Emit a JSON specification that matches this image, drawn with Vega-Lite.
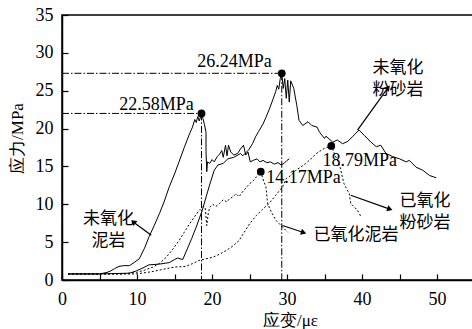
{
  "$schema": "https://vega.github.io/schema/vega-lite/v6.json",
  "width": 412,
  "height": 265,
  "autosize": "none",
  "padding": {"left": 62, "top": 15, "right": 0, "bottom": 49},
  "background": "white",
  "config": {
    "view": {"stroke": "black", "strokeWidth": 1.5},
    "axis": {
      "grid": false,
      "domainColor": "black",
      "domainWidth": 1.5,
      "tickColor": "black",
      "tickWidth": 1.2,
      "tickSize": -6,
      "labelFont": "Liberation Serif",
      "labelFontSize": 18,
      "labelColor": "black",
      "labelFlush": false,
      "labelOverlap": false,
      "titleFont": "Liberation Serif",
      "titleFontSize": 17,
      "titleFontWeight": "normal",
      "titleColor": "black"
    }
  },
  "datasets": {
    "curves": [
      {"series": "未氧化泥岩", "strain": 0.8, "stress": 0.8},
      {"series": "未氧化泥岩", "strain": 5, "stress": 0.8},
      {"series": "未氧化泥岩", "strain": 6, "stress": 1.0},
      {"series": "未氧化泥岩", "strain": 6.5, "stress": 1.2},
      {"series": "未氧化泥岩", "strain": 7, "stress": 1.5},
      {"series": "未氧化泥岩", "strain": 7.6, "stress": 1.8},
      {"series": "未氧化泥岩", "strain": 8.3, "stress": 1.9},
      {"series": "未氧化泥岩", "strain": 9, "stress": 1.9},
      {"series": "未氧化泥岩", "strain": 9.6, "stress": 2.3},
      {"series": "未氧化泥岩", "strain": 10.3, "stress": 2.8},
      {"series": "未氧化泥岩", "strain": 11, "stress": 4.2},
      {"series": "未氧化泥岩", "strain": 11.6, "stress": 5.7},
      {"series": "未氧化泥岩", "strain": 12.3, "stress": 7.2},
      {"series": "未氧化泥岩", "strain": 13, "stress": 8.8},
      {"series": "未氧化泥岩", "strain": 13.6, "stress": 10.3},
      {"series": "未氧化泥岩", "strain": 14.3, "stress": 12.3},
      {"series": "未氧化泥岩", "strain": 15, "stress": 14},
      {"series": "未氧化泥岩", "strain": 15.6, "stress": 15.6},
      {"series": "未氧化泥岩", "strain": 16.3, "stress": 17.5},
      {"series": "未氧化泥岩", "strain": 17, "stress": 19.3},
      {"series": "未氧化泥岩", "strain": 17.4, "stress": 20.2},
      {"series": "未氧化泥岩", "strain": 17.7, "stress": 21.2},
      {"series": "未氧化泥岩", "strain": 17.9, "stress": 20.8},
      {"series": "未氧化泥岩", "strain": 18.1, "stress": 21.6},
      {"series": "未氧化泥岩", "strain": 18.3, "stress": 21.0},
      {"series": "未氧化泥岩", "strain": 18.6, "stress": 22.0},
      {"series": "未氧化泥岩", "strain": 18.8, "stress": 21.3},
      {"series": "未氧化泥岩", "strain": 19.0, "stress": 20.5},
      {"series": "未氧化泥岩", "strain": 19.2, "stress": 19.5},
      {"series": "未氧化泥岩", "strain": 19.2, "stress": 17.0},
      {"series": "未氧化泥岩", "strain": 19.3, "stress": 14.3},
      {"series": "未氧化泥岩", "strain": 19.4, "stress": 15.6},
      {"series": "未氧化泥岩", "strain": 19.7, "stress": 15.4},
      {"series": "未氧化泥岩", "strain": 20.0, "stress": 15.9},
      {"series": "未氧化泥岩", "strain": 20.3, "stress": 15.6},
      {"series": "未氧化泥岩", "strain": 20.7, "stress": 16.3},
      {"series": "未氧化泥岩", "strain": 21.0, "stress": 16.6},
      {"series": "未氧化泥岩", "strain": 21.3, "stress": 17.1},
      {"series": "未氧化泥岩", "strain": 21.5, "stress": 16.2},
      {"series": "未氧化泥岩", "strain": 21.8, "stress": 17.8},
      {"series": "未氧化泥岩", "strain": 22.0, "stress": 16.4},
      {"series": "未氧化泥岩", "strain": 22.2, "stress": 17.8},
      {"series": "未氧化泥岩", "strain": 22.5, "stress": 16.9},
      {"series": "未氧化泥岩", "strain": 22.9, "stress": 16.5},
      {"series": "未氧化泥岩", "strain": 23.4, "stress": 16.7},
      {"series": "未氧化泥岩", "strain": 23.8, "stress": 17.3},
      {"series": "未氧化泥岩", "strain": 24.2, "stress": 17.8},
      {"series": "未氧化泥岩", "strain": 24.5, "stress": 16.5},
      {"series": "未氧化泥岩", "strain": 24.8, "stress": 16.9},
      {"series": "未氧化泥岩", "strain": 25.1, "stress": 15.6},
      {"series": "未氧化泥岩", "strain": 25.5, "stress": 15.8},
      {"series": "未氧化泥岩", "strain": 26.0, "stress": 16.0},
      {"series": "未氧化泥岩", "strain": 26.4, "stress": 15.6},
      {"series": "未氧化泥岩", "strain": 26.8, "stress": 15.8},
      {"series": "未氧化泥岩", "strain": 27.3, "stress": 15.5},
      {"series": "未氧化泥岩", "strain": 27.8, "stress": 15.6},
      {"series": "未氧化泥岩", "strain": 28.3, "stress": 15.3},
      {"series": "未氧化泥岩", "strain": 28.8, "stress": 15.5},
      {"series": "未氧化泥岩", "strain": 29.2, "stress": 15.2},
      {"series": "未氧化泥岩", "strain": 29.6, "stress": 15.4},
      {"series": "未氧化泥岩", "strain": 30.0, "stress": 15.8},
      {"series": "未氧化泥岩", "strain": 30.3, "stress": 16.0},

      {"series": "未氧化粉砂岩", "strain": 0.8, "stress": 0.8},
      {"series": "未氧化粉砂岩", "strain": 5, "stress": 0.8},
      {"series": "未氧化粉砂岩", "strain": 9, "stress": 0.9},
      {"series": "未氧化粉砂岩", "strain": 9.9, "stress": 1.2},
      {"series": "未氧化粉砂岩", "strain": 10.8, "stress": 1.6},
      {"series": "未氧化粉砂岩", "strain": 11.6, "stress": 2.0},
      {"series": "未氧化粉砂岩", "strain": 13, "stress": 2.1},
      {"series": "未氧化粉砂岩", "strain": 14.3, "stress": 2.3},
      {"series": "未氧化粉砂岩", "strain": 15, "stress": 2.7},
      {"series": "未氧化粉砂岩", "strain": 15.4, "stress": 2.9},
      {"series": "未氧化粉砂岩", "strain": 16.1, "stress": 2.7},
      {"series": "未氧化粉砂岩", "strain": 16.7, "stress": 4.1},
      {"series": "未氧化粉砂岩", "strain": 17.3, "stress": 5.5},
      {"series": "未氧化粉砂岩", "strain": 17.9, "stress": 7.0},
      {"series": "未氧化粉砂岩", "strain": 18.7, "stress": 9.2},
      {"series": "未氧化粉砂岩", "strain": 19.6, "stress": 12.3},
      {"series": "未氧化粉砂岩", "strain": 20.3, "stress": 14.5},
      {"series": "未氧化粉砂岩", "strain": 20.8, "stress": 15.2},
      {"series": "未氧化粉砂岩", "strain": 21.5, "stress": 15.4},
      {"series": "未氧化粉砂岩", "strain": 22.1, "stress": 16.0},
      {"series": "未氧化粉砂岩", "strain": 22.9, "stress": 16.2},
      {"series": "未氧化粉砂岩", "strain": 23.8, "stress": 16.7},
      {"series": "未氧化粉砂岩", "strain": 24.1, "stress": 16.4},
      {"series": "未氧化粉砂岩", "strain": 24.9, "stress": 17.2},
      {"series": "未氧化粉砂岩", "strain": 25.4, "stress": 18.0},
      {"series": "未氧化粉砂岩", "strain": 25.8, "stress": 18.9},
      {"series": "未氧化粉砂岩", "strain": 26.2, "stress": 19.6},
      {"series": "未氧化粉砂岩", "strain": 26.8, "stress": 20.6},
      {"series": "未氧化粉砂岩", "strain": 27.2, "stress": 21.5},
      {"series": "未氧化粉砂岩", "strain": 27.7, "stress": 22.7},
      {"series": "未氧化粉砂岩", "strain": 28.1, "stress": 23.8},
      {"series": "未氧化粉砂岩", "strain": 28.5, "stress": 24.9},
      {"series": "未氧化粉砂岩", "strain": 28.7, "stress": 25.7},
      {"series": "未氧化粉砂岩", "strain": 28.9, "stress": 25.2},
      {"series": "未氧化粉砂岩", "strain": 29.1, "stress": 26.6},
      {"series": "未氧化粉砂岩", "strain": 29.3, "stress": 27.3},
      {"series": "未氧化粉砂岩", "strain": 29.5, "stress": 25.3},
      {"series": "未氧化粉砂岩", "strain": 29.7, "stress": 26.6},
      {"series": "未氧化粉砂岩", "strain": 29.9, "stress": 24.0},
      {"series": "未氧化粉砂岩", "strain": 30.1, "stress": 26.4},
      {"series": "未氧化粉砂岩", "strain": 30.3, "stress": 23.5},
      {"series": "未氧化粉砂岩", "strain": 30.5, "stress": 26.3},
      {"series": "未氧化粉砂岩", "strain": 30.9, "stress": 25.3},
      {"series": "未氧化粉砂岩", "strain": 31.3, "stress": 23.1},
      {"series": "未氧化粉砂岩", "strain": 31.6, "stress": 21.1},
      {"series": "未氧化粉砂岩", "strain": 32.1, "stress": 20.4},
      {"series": "未氧化粉砂岩", "strain": 32.8, "stress": 20.9},
      {"series": "未氧化粉砂岩", "strain": 33.3, "stress": 20.4},
      {"series": "未氧化粉砂岩", "strain": 34.0, "stress": 20.2},
      {"series": "未氧化粉砂岩", "strain": 34.3, "stress": 19.6},
      {"series": "未氧化粉砂岩", "strain": 34.5, "stress": 19.3},
      {"series": "未氧化粉砂岩", "strain": 35.0, "stress": 18.7},
      {"series": "未氧化粉砂岩", "strain": 35.2, "stress": 19.0},
      {"series": "未氧化粉砂岩", "strain": 36.1, "stress": 18.2},
      {"series": "未氧化粉砂岩", "strain": 36.7, "stress": 18.5},
      {"series": "未氧化粉砂岩", "strain": 37.4, "stress": 18.0},
      {"series": "未氧化粉砂岩", "strain": 38.1, "stress": 18.3},
      {"series": "未氧化粉砂岩", "strain": 38.7, "stress": 18.9},
      {"series": "未氧化粉砂岩", "strain": 39.6, "stress": 19.8},
      {"series": "未氧化粉砂岩", "strain": 40.3, "stress": 19.1},
      {"series": "未氧化粉砂岩", "strain": 41.2, "stress": 18.2},
      {"series": "未氧化粉砂岩", "strain": 41.9, "stress": 17.6},
      {"series": "未氧化粉砂岩", "strain": 42.5, "stress": 17.8},
      {"series": "未氧化粉砂岩", "strain": 43.2, "stress": 16.7},
      {"series": "未氧化粉砂岩", "strain": 44.1, "stress": 16.3},
      {"series": "未氧化粉砂岩", "strain": 45.0, "stress": 16.0},
      {"series": "未氧化粉砂岩", "strain": 45.9, "stress": 15.6},
      {"series": "未氧化粉砂岩", "strain": 46.3, "stress": 15.8},
      {"series": "未氧化粉砂岩", "strain": 47.2, "stress": 14.9},
      {"series": "未氧化粉砂岩", "strain": 48.1, "stress": 14.5},
      {"series": "未氧化粉砂岩", "strain": 49.0, "stress": 13.8},
      {"series": "未氧化粉砂岩", "strain": 49.9, "stress": 13.5},

      {"series": "已氧化泥岩", "strain": 0.8, "stress": 0.8},
      {"series": "已氧化泥岩", "strain": 8, "stress": 0.8},
      {"series": "已氧化泥岩", "strain": 9.9, "stress": 1.0},
      {"series": "已氧化泥岩", "strain": 11, "stress": 1.3},
      {"series": "已氧化泥岩", "strain": 12.1, "stress": 1.7},
      {"series": "已氧化泥岩", "strain": 13, "stress": 2.2},
      {"series": "已氧化泥岩", "strain": 13.9, "stress": 3.0},
      {"series": "已氧化泥岩", "strain": 14.8, "stress": 4.1},
      {"series": "已氧化泥岩", "strain": 15.6, "stress": 5.2},
      {"series": "已氧化泥岩", "strain": 16.3, "stress": 6.3},
      {"series": "已氧化泥岩", "strain": 17, "stress": 7.4},
      {"series": "已氧化泥岩", "strain": 17.7, "stress": 8.4},
      {"series": "已氧化泥岩", "strain": 18.3, "stress": 9.2},
      {"series": "已氧化泥岩", "strain": 18.8, "stress": 9.7},
      {"series": "已氧化泥岩", "strain": 19.1, "stress": 9.5},
      {"series": "已氧化泥岩", "strain": 19.3, "stress": 7.2},
      {"series": "已氧化泥岩", "strain": 19.5, "stress": 8.8},
      {"series": "已氧化泥岩", "strain": 19.7, "stress": 9.6},
      {"series": "已氧化泥岩", "strain": 20.1, "stress": 10.0},
      {"series": "已氧化泥岩", "strain": 20.5, "stress": 9.7},
      {"series": "已氧化泥岩", "strain": 21, "stress": 10.1},
      {"series": "已氧化泥岩", "strain": 21.5, "stress": 10.6},
      {"series": "已氧化泥岩", "strain": 22, "stress": 10.3},
      {"series": "已氧化泥岩", "strain": 22.3, "stress": 10.7},
      {"series": "已氧化泥岩", "strain": 22.8, "stress": 11.0},
      {"series": "已氧化泥岩", "strain": 23.2, "stress": 11.4},
      {"series": "已氧化泥岩", "strain": 23.6, "stress": 11.0},
      {"series": "已氧化泥岩", "strain": 24.2, "stress": 11.8},
      {"series": "已氧化泥岩", "strain": 25, "stress": 12.7},
      {"series": "已氧化泥岩", "strain": 25.5, "stress": 13.1},
      {"series": "已氧化泥岩", "strain": 25.9, "stress": 13.6},
      {"series": "已氧化泥岩", "strain": 26.5, "stress": 14.3},
      {"series": "已氧化泥岩", "strain": 26.9, "stress": 13.0},
      {"series": "已氧化泥岩", "strain": 27.2, "stress": 12.3},
      {"series": "已氧化泥岩", "strain": 27.4, "stress": 10.1},
      {"series": "已氧化泥岩", "strain": 27.9, "stress": 9.0},
      {"series": "已氧化泥岩", "strain": 28.5, "stress": 7.9},
      {"series": "已氧化泥岩", "strain": 29, "stress": 7.4},
      {"series": "已氧化泥岩", "strain": 29.5, "stress": 6.9},
      {"series": "已氧化泥岩", "strain": 30.1, "stress": 6.3},

      {"series": "已氧化粉砂岩", "strain": 0.8, "stress": 0.8},
      {"series": "已氧化粉砂岩", "strain": 9.9, "stress": 0.8},
      {"series": "已氧化粉砂岩", "strain": 12, "stress": 1.1},
      {"series": "已氧化粉砂岩", "strain": 13.9, "stress": 1.5},
      {"series": "已氧化粉砂岩", "strain": 15, "stress": 1.7},
      {"series": "已氧化粉砂岩", "strain": 16.5, "stress": 1.8},
      {"series": "已氧化粉砂岩", "strain": 17.5, "stress": 2.2},
      {"series": "已氧化粉砂岩", "strain": 18.3, "stress": 2.6},
      {"series": "已氧化粉砂岩", "strain": 19.2, "stress": 2.8},
      {"series": "已氧化粉砂岩", "strain": 20.1, "stress": 3.0},
      {"series": "已氧化粉砂岩", "strain": 21, "stress": 3.4},
      {"series": "已氧化粉砂岩", "strain": 21.9, "stress": 3.9},
      {"series": "已氧化粉砂岩", "strain": 22.8, "stress": 4.5},
      {"series": "已氧化粉砂岩", "strain": 23.6, "stress": 5.2},
      {"series": "已氧化粉砂岩", "strain": 24.1, "stress": 6.0},
      {"series": "已氧化粉砂岩", "strain": 25, "stress": 7.4},
      {"series": "已氧化粉砂岩", "strain": 25.9, "stress": 8.5},
      {"series": "已氧化粉砂岩", "strain": 26.7, "stress": 9.3},
      {"series": "已氧化粉砂岩", "strain": 27.6, "stress": 10.1},
      {"series": "已氧化粉砂岩", "strain": 28.5, "stress": 11.2},
      {"series": "已氧化粉砂岩", "strain": 29.4, "stress": 12.3},
      {"series": "已氧化粉砂岩", "strain": 29.9, "stress": 13.4},
      {"series": "已氧化粉砂岩", "strain": 30.5, "stress": 13.8},
      {"series": "已氧化粉砂岩", "strain": 31.2, "stress": 14.5},
      {"series": "已氧化粉砂岩", "strain": 31.8, "stress": 14.9},
      {"series": "已氧化粉砂岩", "strain": 32.5, "stress": 15.4},
      {"series": "已氧化粉砂岩", "strain": 33.2, "stress": 16.0},
      {"series": "已氧化粉砂岩", "strain": 33.9, "stress": 16.7},
      {"series": "已氧化粉砂岩", "strain": 35, "stress": 17.4},
      {"series": "已氧化粉砂岩", "strain": 35.9, "stress": 17.7},
      {"series": "已氧化粉砂岩", "strain": 36.4, "stress": 16.5},
      {"series": "已氧化粉砂岩", "strain": 37.0, "stress": 15.2},
      {"series": "已氧化粉砂岩", "strain": 37.6, "stress": 12.7},
      {"series": "已氧化粉砂岩", "strain": 38.3, "stress": 11.4},
      {"series": "已氧化粉砂岩", "strain": 38.5, "stress": 10.1},
      {"series": "已氧化粉砂岩", "strain": 39.4, "stress": 9.2},
      {"series": "已氧化粉砂岩", "strain": 39.9, "stress": 8.3}
    ],
    "refs": [
      {"strain": 0, "stress": 22.0, "strain2": 18.6, "stress2": 22.0},
      {"strain": 18.6, "stress": 22.0, "strain2": 18.6, "stress2": 0},
      {"strain": 0, "stress": 27.3, "strain2": 29.3, "stress2": 27.3},
      {"strain": 29.3, "stress": 27.3, "strain2": 29.3, "stress2": 0}
    ],
    "peaks": [
      {"strain": 18.6, "stress": 22.0},
      {"strain": 29.3, "stress": 27.3},
      {"strain": 26.5, "stress": 14.3},
      {"strain": 35.9, "stress": 17.7}
    ],
    "peakLabels": [
      {"label": "22.58MPa", "strain": 12.6, "stress": 23.1},
      {"label": "26.24MPa", "strain": 23.0, "stress": 28.8},
      {"label": "14.17MPa", "strain": 32.2, "stress": 13.5},
      {"label": "18.79MPa", "strain": 39.7, "stress": 15.7}
    ],
    "names": [
      {"text": "未氧化\n粉砂岩", "strain": 44.8, "stress": 28.05},
      {"text": "未氧化\n泥岩", "strain": 6.2, "stress": 8.05},
      {"text": "已氧化\n粉砂岩", "strain": 48.4, "stress": 10.45},
      {"text": "已氧化泥岩", "strain": 39.2, "stress": 5.9}
    ],
    "arrows": [
      {"strain": 39.4, "stress": 19.8, "strain2": 43.4, "stress2": 25.3},
      {"strain": 11.9, "stress": 5.9, "strain2": 9.6, "stress2": 7.6},
      {"strain": 38.5, "stress": 11.2, "strain2": 43.6, "stress2": 9.4},
      {"strain": 29.4, "stress": 7.2, "strain2": 32.1, "stress2": 6.3}
    ],
    "heads": [
      {"id": "a1", "strain": 43.4, "stress": 25.3},
      {"id": "a2", "strain": 9.6, "stress": 7.6},
      {"id": "a3", "strain": 43.6, "stress": 9.4},
      {"id": "a4", "strain": 32.1, "stress": 6.3}
    ]
  },
  "encoding": {
    "x": {
      "field": "strain", "type": "quantitative",
      "scale": {"domain": [0, 54.93], "nice": false, "zero": false},
      "axis": {
        "title": "应变/με",
        "values": [0, 5, 10, 15, 20, 25, 30, 35, 40, 45, 50],
        "labelExpr": "datum.value % 10 === 0 ? datum.label : ''",
        "labelOverlap": false,
        "labelPadding": 16,
        "titleX": 228, "titleY": 40, "titleBaseline": "middle"
      }
    },
    "y": {
      "field": "stress", "type": "quantitative",
      "scale": {"domain": [0, 35], "nice": false},
      "axis": {
        "title": "应力/MPa",
        "values": [0, 5, 10, 15, 20, 25, 30, 35],
        "labelOverlap": false,
        "labelPadding": 15,
        "titleX": -45, "titleY": 123, "titleBaseline": "middle"
      }
    }
  },
  "layer": [
    {
      "data": {"name": "refs"},
      "mark": {"type": "rule", "color": "black", "strokeWidth": 1, "strokeDash": [7, 2, 1.5, 2]},
      "encoding": {
        "x2": {"field": "strain2"},
        "y2": {"field": "stress2"}
      }
    },
    {
      "data": {"name": "curves"},
      "transform": [{"filter": "indexof(datum.series, '未') === 0"}],
      "mark": {"type": "line", "color": "black", "strokeWidth": 1},
      "encoding": {
        "detail": {"field": "series"}
      }
    },
    {
      "data": {"name": "curves"},
      "transform": [{"filter": "indexof(datum.series, '已') === 0"}],
      "mark": {"type": "line", "color": "black", "strokeWidth": 1, "strokeDash": [2, 2]},
      "encoding": {
        "detail": {"field": "series"}
      }
    },
    {
      "data": {"name": "peaks"},
      "mark": {"type": "point", "filled": true, "color": "black", "opacity": 1, "size": 60},
      "encoding": {}
    },
    {
      "data": {"name": "peakLabels"},
      "mark": {"type": "text", "font": "Liberation Serif", "fontSize": 18, "color": "black", "baseline": "middle", "align": "center"},
      "encoding": {
        "text": {"field": "label"}
      }
    },
    {
      "data": {"name": "names"},
      "mark": {"type": "text", "font": "Noto Sans CJK SC", "fontSize": 17, "color": "black", "baseline": "middle", "align": "center", "lineBreak": "\n", "lineHeight": 22},
      "encoding": {
        "text": {"field": "text"}
      }
    },
    {
      "data": {"name": "arrows"},
      "mark": {"type": "rule", "color": "black", "strokeWidth": 1.2},
      "encoding": {
        "x2": {"field": "strain2"},
        "y2": {"field": "stress2"}
      }
    },
    {
      "data": {"name": "heads"},
      "transform": [{"filter": "datum.id === 'a1'"}],
      "mark": {"type": "point", "shape": "triangle", "filled": true, "color": "black", "opacity": 1, "size": 40, "angle": 39},
      "encoding": {}
    },
    {
      "data": {"name": "heads"},
      "transform": [{"filter": "datum.id === 'a2'"}],
      "mark": {"type": "point", "shape": "triangle", "filled": true, "color": "black", "opacity": 1, "size": 40, "angle": 308},
      "encoding": {}
    },
    {
      "data": {"name": "heads"},
      "transform": [{"filter": "datum.id === 'a3'"}],
      "mark": {"type": "point", "shape": "triangle", "filled": true, "color": "black", "opacity": 1, "size": 40, "angle": 109},
      "encoding": {}
    },
    {
      "data": {"name": "heads"},
      "transform": [{"filter": "datum.id === 'a4'"}],
      "mark": {"type": "point", "shape": "triangle", "filled": true, "color": "black", "opacity": 1, "size": 40, "angle": 108},
      "encoding": {}
    }
  ]
}
